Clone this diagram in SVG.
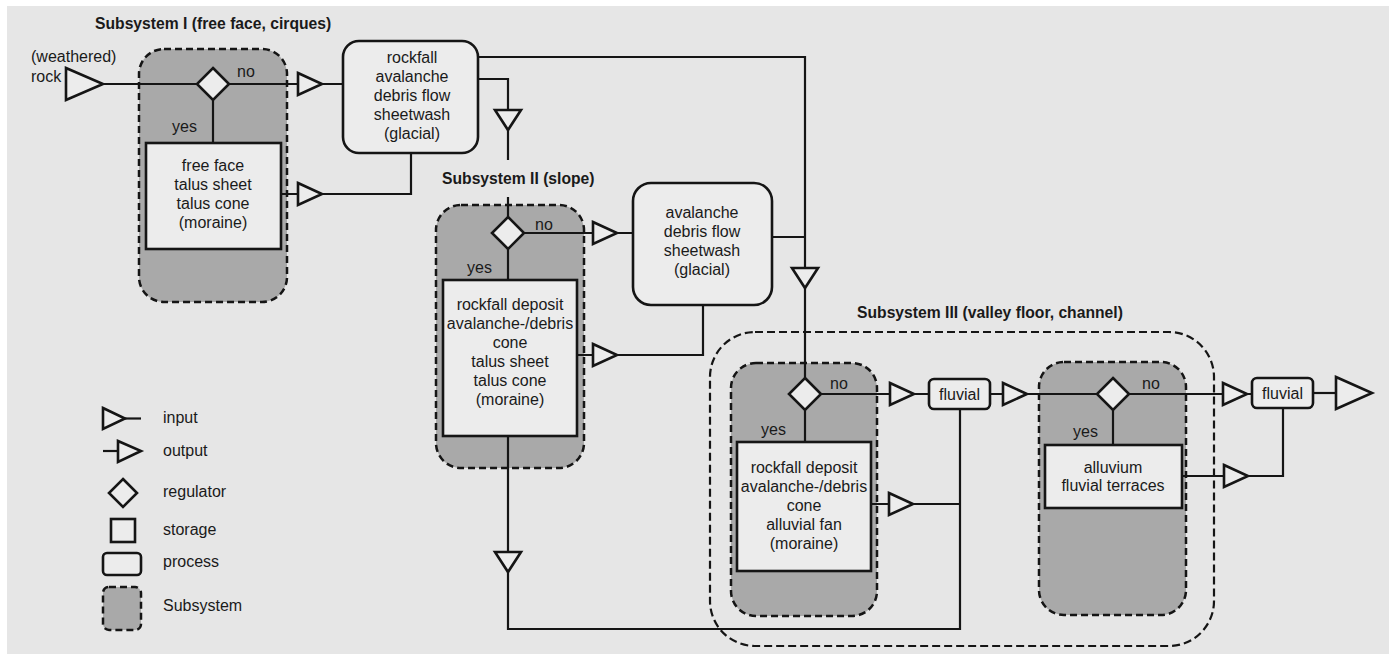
<svg xmlns="http://www.w3.org/2000/svg" width="1389" height="654" viewBox="0 0 1389 654">
<style>
.sub{fill:#a9a9a9;stroke:#151515;stroke-width:2.5;stroke-dasharray:7 4}
.outer{fill:none;stroke:#151515;stroke-width:2.2;stroke-dasharray:8 4}
.box{fill:#ececec;stroke:#151515;stroke-width:2.6}
.tri{fill:#ececec;stroke:#151515;stroke-width:2.6;stroke-linejoin:miter}
.ln{fill:none;stroke:#151515;stroke-width:2.2}
text{font-family:"Liberation Sans",Arial,sans-serif;font-size:16px;fill:#1a1a1a}
.c{text-anchor:middle}
.h{font-weight:bold;font-size:15.7px}
</style>
<rect x="0" y="0" width="1389" height="654" fill="#ffffff"/>
<rect x="7" y="6" width="1382" height="648" fill="#e6e6e6"/>

<!-- subsystem containers -->
<g id="subsystem-3-outer"><rect class="outer" x="710" y="332" width="504" height="314" rx="45"/>
<text class="h" x="857" y="318">Subsystem III (valley floor, channel)</text></g>
<g id="subsystem-1"><rect class="sub" x="139" y="49" width="148" height="253" rx="25"/>
<text class="h" x="95" y="29">Subsystem I (free face, cirques)</text></g>
<g id="subsystem-2"><rect class="sub" x="436" y="205" width="148" height="263" rx="25"/>
<text class="h" x="442" y="184">Subsystem II (slope)</text></g>
<g id="subsystem-3a"><rect class="sub" x="731" y="363" width="146" height="253" rx="25"/></g>
<g id="subsystem-3b"><rect class="sub" x="1039" y="362" width="147" height="253" rx="25"/></g>

<!-- connectors -->
<g id="connectors" class="ln">
<path d="M103,84 H298 M322,84 H343"/>
<path d="M213,100 V143"/>
<path d="M281,194 H298 M322,194 H411 V153"/>
<path d="M443,57 H805 V268 M805,288 V378"/>
<path d="M478,79 H508 V110 M508,130 V160 M508,197 V217"/>
<path d="M524,233 H593 M617,233 H633"/>
<path d="M508,249 V280"/>
<path d="M577,355 H593 M617,355 H703 V305"/>
<path d="M772,237 H805"/>
<path d="M508,436 V552 M508,572 V629 H960 V409"/>
<path d="M821,394 H890 M914,394 H929"/>
<path d="M805,410 V442"/>
<path d="M871,504 H889 M913,504 H960"/>
<path d="M990,394 H1003 M1027,394 H1097 M1129,394 H1223 M1247,394 H1252"/>
<path d="M1113,410 V445"/>
<path d="M1182,476 H1224 M1248,476 H1283 V408"/>
<path d="M1313,393 H1336"/>
</g>

<!-- inputs / outputs -->
<g id="input-rock"><polygon class="tri" points="66,68 103,84 66,100"/>
<text x="31" y="62">(weathered)</text><text x="31" y="82">rock</text></g>
<g id="out-1a"><polygon class="tri" points="298,73 322,84 298,95"/></g>
<g id="out-1b"><polygon class="tri" points="298,183 322,194 298,205"/></g>
<g id="in-2"><polygon class="tri" points="495,110 521,110 508,130"/></g>
<g id="out-2a"><polygon class="tri" points="593,222 617,233 593,244"/></g>
<g id="out-2b"><polygon class="tri" points="593,344 617,355 593,366"/></g>
<g id="out-2c"><polygon class="tri" points="495,552 521,552 508,572"/></g>
<g id="in-3"><polygon class="tri" points="792,268 818,268 805,288"/></g>
<g id="out-3a"><polygon class="tri" points="890,383 914,394 890,405"/></g>
<g id="out-3b"><polygon class="tri" points="889,493 913,504 889,515"/></g>
<g id="out-3c"><polygon class="tri" points="1003,383 1027,394 1003,405"/></g>
<g id="out-3d"><polygon class="tri" points="1223,383 1247,394 1223,405"/></g>
<g id="out-3e"><polygon class="tri" points="1224,465 1248,476 1224,487"/></g>
<g id="output-final"><polygon class="tri" points="1336,377 1372,393 1336,409"/></g>

<!-- regulators -->
<g id="reg-1"><polygon class="tri" points="213,68 229,84 213,100 197,84"/>
<text x="237" y="77">no</text><text x="172" y="132">yes</text></g>
<g id="reg-2"><polygon class="tri" points="508,217 524,233 508,249 492,233"/>
<text x="535" y="230">no</text><text x="467" y="273">yes</text></g>
<g id="reg-3a"><polygon class="tri" points="805,378 821,394 805,410 789,394"/>
<text x="830" y="389">no</text><text x="761" y="435">yes</text></g>
<g id="reg-3b"><polygon class="tri" points="1113,378 1129,394 1113,410 1097,394"/>
<text x="1142" y="389">no</text><text x="1073" y="437">yes</text></g>

<!-- storages -->
<g id="store-1"><rect class="box" x="146" y="143" width="135" height="106"/>
<text class="c" x="213" y="171">free face</text><text class="c" x="213" y="190">talus sheet</text>
<text class="c" x="213" y="209">talus cone</text><text class="c" x="213" y="228">(moraine)</text></g>
<g id="store-2"><rect class="box" x="443" y="280" width="134" height="156"/>
<text class="c" x="510" y="310">rockfall deposit</text><text class="c" x="510" y="329">avalanche-/debris</text>
<text class="c" x="510" y="348">cone</text><text class="c" x="510" y="367">talus sheet</text>
<text class="c" x="510" y="386">talus cone</text><text class="c" x="510" y="405">(moraine)</text></g>
<g id="store-3a"><rect class="box" x="737" y="442" width="134" height="129"/>
<text class="c" x="804" y="473">rockfall deposit</text><text class="c" x="804" y="492">avalanche-/debris</text>
<text class="c" x="804" y="511">cone</text><text class="c" x="804" y="530">alluvial fan</text>
<text class="c" x="804" y="549">(moraine)</text></g>
<g id="store-3b"><rect class="box" x="1045" y="445" width="137" height="63"/>
<text class="c" x="1113" y="473">alluvium</text><text class="c" x="1113" y="491">fluvial terraces</text></g>

<!-- processes -->
<g id="proc-1"><rect class="box" x="343" y="41" width="135" height="112" rx="16"/>
<text class="c" x="412" y="63">rockfall</text><text class="c" x="412" y="82">avalanche</text>
<text class="c" x="412" y="101">debris flow</text><text class="c" x="412" y="120">sheetwash</text>
<text class="c" x="412" y="139">(glacial)</text></g>
<g id="proc-2"><rect class="box" x="633" y="183" width="139" height="122" rx="18"/>
<text class="c" x="702" y="218">avalanche</text><text class="c" x="702" y="237">debris flow</text>
<text class="c" x="702" y="256">sheetwash</text><text class="c" x="702" y="275">(glacial)</text></g>
<g id="proc-fluvial-1"><rect class="box" x="929" y="379" width="61" height="30" rx="5"/>
<text class="c" x="959.5" y="400">fluvial</text></g>
<g id="proc-fluvial-2"><rect class="box" x="1252" y="378" width="61" height="30" rx="5"/>
<text class="c" x="1282.5" y="399">fluvial</text></g>

<!-- legend -->
<g id="legend">
<polygon class="tri" points="103,408 125,418.5 103,429"/><path class="ln" d="M125,418.5 H141"/><text x="163" y="423">input</text>
<path class="ln" d="M103,451 H118"/><polygon class="tri" points="118,441 141,451 118,462"/><text x="163" y="456">output</text>
<polygon class="tri" points="123,479 137,493 123,507 109,493"/><text x="163" y="497">regulator</text>
<rect class="box" x="111" y="519" width="24" height="23"/><text x="163" y="535">storage</text>
<rect class="box" x="103" y="553" width="38" height="22" rx="4"/><text x="163" y="567">process</text>
<rect class="sub" x="103" y="587" width="38" height="43" rx="6"/><text x="163" y="611">Subsystem</text>
</g>
</svg>
